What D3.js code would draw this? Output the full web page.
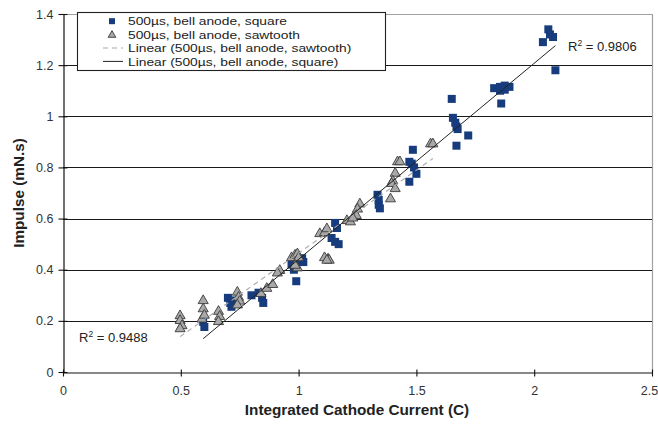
<!DOCTYPE html>
<html>
<head>
<meta charset="utf-8">
<script src="https://cdn.jsdelivr.net/npm/d3@7"></script>
<style>
  html, body { margin: 0; padding: 0; background: #fff; }
  svg { display: block; font-family: "Liberation Sans", Arial, sans-serif; }
</style>
</head>
<body>
<svg id="chart" width="658" height="424"></svg>
<script>
// Square-wave discharges: integrated cathode current (C) vs impulse (mN.s)
const squareX = [0.595, 0.600, 0.700, 0.710, 0.720, 0.715, 0.800, 0.830, 0.845, 0.850,
  0.970, 0.980, 0.990, 1.000, 1.015, 1.020, 1.155, 1.163, 1.140, 1.155,
  1.170, 1.335, 1.340, 1.340, 1.345, 1.485, 1.470, 1.480, 1.490, 1.500,
  1.470, 1.650, 1.655, 1.665, 1.670, 1.675, 1.720, 1.670, 1.830, 1.855,
  1.875, 1.895, 1.875, 1.855, 1.860, 2.060, 2.067, 2.080, 2.037, 2.090];
const squareY = [0.196, 0.176, 0.290, 0.270, 0.280, 0.255, 0.300, 0.310, 0.290, 0.270,
  0.420, 0.400, 0.355, 0.430, 0.445, 0.430, 0.583, 0.563, 0.524, 0.509,
  0.500, 0.693, 0.673, 0.654, 0.640, 0.869, 0.822, 0.815, 0.800, 0.775,
  0.744, 1.068, 0.994, 0.975, 0.960, 0.950, 0.925, 0.885, 1.110, 1.115,
  1.120, 1.115, 1.104, 1.100, 1.050, 1.340, 1.320, 1.310, 1.290, 1.180];

// Sawtooth discharges
const sawX = [0.497, 0.497, 0.505, 0.497, 0.595, 0.595, 0.590, 0.600, 0.660, 0.665,
  0.660, 0.740, 0.745, 0.750, 0.740, 0.840, 0.865, 0.890, 0.920, 0.910,
  0.970, 0.985, 0.995, 1.000, 0.995, 0.985, 1.090, 1.110, 1.120, 1.110,
  1.125, 1.130, 1.120, 1.205, 1.220, 1.260, 1.250, 1.245, 1.230, 1.410,
  1.400, 1.395, 1.410, 1.390, 1.420, 1.430, 1.560, 1.570];
const sawY = [0.223, 0.204, 0.184, 0.172, 0.282, 0.250, 0.210, 0.225, 0.240, 0.220,
  0.200, 0.315, 0.295, 0.280, 0.265, 0.310, 0.330, 0.345, 0.400, 0.390,
  0.450, 0.460, 0.465, 0.450, 0.410, 0.420, 0.544, 0.548, 0.563, 0.450,
  0.445, 0.440, 0.440, 0.595, 0.590, 0.660, 0.640, 0.615, 0.605, 0.780,
  0.750, 0.740, 0.720, 0.680, 0.825, 0.825, 0.895, 0.895];

const xTicks = [0, 0.5, 1, 1.5, 2, 2.5];
const yTicks = [0, 0.2, 0.4, 0.6, 0.8, 1, 1.2, 1.4];
const legendLabels = ["500\u00b5s, bell anode, square", "500\u00b5s, bell anode, sawtooth",
  "Linear (500\u00b5s, bell anode, sawtooth)", "Linear (500\u00b5s, bell anode, square)"];
const r2Labels = ["0.9806", "0.9488"];

const svg = d3.select("#chart");
const m = { left: 63, top: 14, right: 652, bottom: 372 };
const x = d3.scaleLinear().domain([0, 2.5]).range([m.left, m.right]);
const y = d3.scaleLinear().domain([0, 1.4]).range([m.bottom, m.top]);

const squareColor = "#173c7d";

// plot frame (top and right) in light grey
svg.append("path")
  .attr("d", `M${m.left},${m.top + 0.5}H${m.right + 0.5}V${m.bottom}`)
  .attr("fill", "none").attr("stroke", "#a0a0a0").attr("stroke-width", 1.2);

// horizontal gridlines
svg.append("g").selectAll("line")
  .data(yTicks.filter(d => d > 0 && d < 1.4))
  .join("line")
  .attr("x1", m.left).attr("x2", m.right)
  .attr("y1", d => Math.round(y(d)) + 0.5).attr("y2", d => Math.round(y(d)) + 0.5)
  .attr("stroke", "#1a1a1a").attr("stroke-width", 1.1);

// axes
const xAxis = svg.append("g").attr("transform", `translate(0,${m.bottom + 0.5})`)
  .call(d3.axisBottom(x).tickValues(xTicks).tickFormat(d3.format("")).tickSizeInner(4).tickSizeOuter(0));
xAxis.selectAll(".tick line").attr("y1", -3).attr("y2", 4);
xAxis.selectAll("text").attr("dy", 0).attr("y", 22);
// keep the last label inside the canvas edge
xAxis.selectAll(".tick").filter(d => d === 2.5).select("text").attr("x", -3);

const yAxis = svg.append("g").attr("transform", `translate(${m.left + 0.5},0)`)
  .call(d3.axisLeft(y).tickValues(yTicks).tickFormat(d3.format("")).tickSizeInner(5).tickSizeOuter(0));
yAxis.selectAll(".tick line").attr("x1", 4).attr("x2", -5);
yAxis.selectAll("text").attr("x", -10);

[xAxis, yAxis].forEach(g => {
  g.select(".domain").attr("stroke", "#111").attr("stroke-width", 1.2);
  g.selectAll(".tick line").attr("stroke", "#111").attr("stroke-width", 1.1);
  g.selectAll("text").attr("font-size", 12.5).attr("fill", "#333")
    .attr("font-family", "Liberation Sans, Arial, sans-serif");
});

// least-squares fit over the data's x range
function fit(xs, ys) {
  const n = xs.length, mx = d3.mean(xs), my = d3.mean(ys);
  let sxy = 0, sxx = 0;
  for (let i = 0; i < n; i++) { sxy += (xs[i] - mx) * (ys[i] - my); sxx += (xs[i] - mx) ** 2; }
  const b = sxy / sxx, a = my - b * mx;
  const [x0, x1] = d3.extent(xs);
  return [[x0, a + b * x0], [x1, a + b * x1]];
}
const line = d3.line().x(d => x(d[0])).y(d => y(d[1]));

const sawData = sawX.map((v, i) => [v, sawY[i]]);
const sqData = squareX.map((v, i) => [v, squareY[i]]);

// square markers
svg.append("g").selectAll("rect").data(sqData).join("rect")
  .attr("x", d => x(d[0]) - 4).attr("y", d => y(d[1]) - 4)
  .attr("width", 8).attr("height", 8)
  .attr("fill", squareColor);

// triangle markers
const tri = d3.symbol().type(d3.symbolTriangle).size(44);
svg.append("g").selectAll("path").data(sawData).join("path")
  .attr("d", tri)
  .attr("transform", d => `translate(${x(d[0])},${y(d[1]) + 0.8})`)
  .attr("fill", "#a8a8a8").attr("stroke", "#3a3a3a").attr("stroke-width", 0.9);

// trendlines
svg.append("path").datum(fit(sawX, sawY)).attr("d", line)
  .attr("fill", "none").attr("stroke", "#a8a8a8").attr("stroke-width", 1.1)
  .attr("stroke-dasharray", "5,4");
svg.append("path").datum(fit(squareX, squareY)).attr("d", line)
  .attr("fill", "none").attr("stroke", "#222").attr("stroke-width", 1);

// R² annotations
function r2(xp, yp, val) {
  const t = svg.append("text").attr("x", xp).attr("y", yp)
    .attr("font-size", 13).attr("fill", "#222");
  t.append("tspan").text("R");
  t.append("tspan").attr("font-size", 8.5).attr("dy", -5).text("2");
  t.append("tspan").attr("dy", 5).text(" = " + val);
}
r2(568, 51, r2Labels[0]);
r2(79, 342, r2Labels[1]);

// legend: tightly stacked rows, text slightly widened
const lg = svg.append("g");
lg.append("rect").attr("x", 77.5).attr("y", 12.5).attr("width", 308).attr("height", 58)
  .attr("fill", "#fff").attr("stroke", "#222").attr("stroke-width", 1.1);
const rowY = [21.2, 34.6, 48, 61.4];
lg.append("rect").attr("x", 109).attr("y", rowY[0] - 3).attr("width", 6).attr("height", 6).attr("fill", squareColor);
lg.append("path").attr("d", d3.symbol().type(d3.symbolTriangle).size(26))
  .attr("transform", `translate(112,${rowY[1] + 0.5})`)
  .attr("fill", "#a8a8a8").attr("stroke", "#3a3a3a").attr("stroke-width", 0.9);
lg.append("line").attr("x1", 103).attr("x2", 123).attr("y1", rowY[2]).attr("y2", rowY[2])
  .attr("stroke", "#a8a8a8").attr("stroke-width", 1.1).attr("stroke-dasharray", "5,4");
lg.append("line").attr("x1", 103).attr("x2", 123).attr("y1", rowY[3]).attr("y2", rowY[3])
  .attr("stroke", "#222").attr("stroke-width", 1);
lg.selectAll("text.lbl").data(legendLabels).join("text").attr("class", "lbl")
  .attr("transform", (d, i) => `translate(128,${rowY[i] + 4.2}) scale(1.2,1)`)
  .attr("font-size", 11.5).attr("fill", "#222").text(d => d);

// axis titles
svg.append("text").attr("x", 357).attr("y", 415).attr("text-anchor", "middle")
  .attr("font-size", 15.3).attr("font-weight", "bold").attr("fill", "#222")
  .text("Integrated Cathode Current (C)");
svg.append("text").attr("transform", "translate(24,193) rotate(-90)").attr("text-anchor", "middle")
  .attr("font-size", 15.3).attr("font-weight", "bold").attr("fill", "#222")
  .text("Impulse (mN.s)");
</script>
</body>
</html>
